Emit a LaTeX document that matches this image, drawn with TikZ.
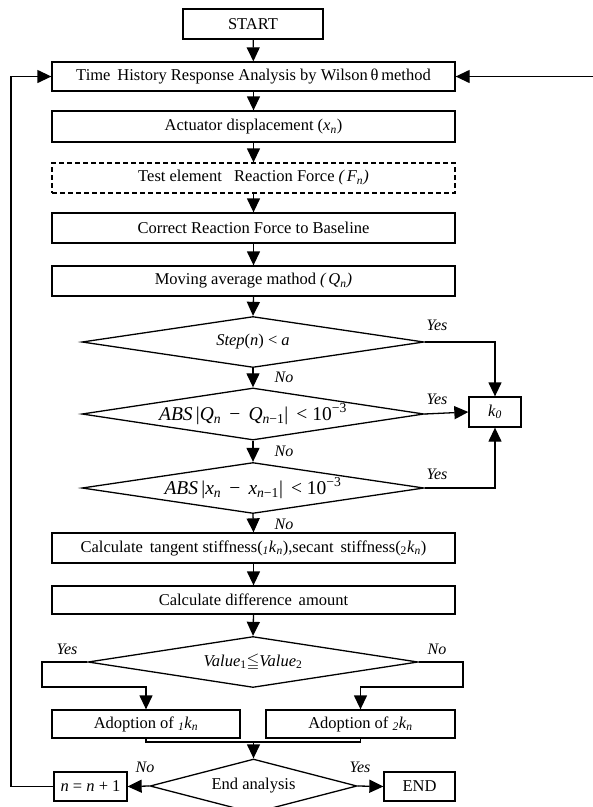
\documentclass[tikz,border=0pt]{standalone}
\usepackage{amssymb}
\usepackage{fontspec}
\setmainfont{Liberation Serif}
\usetikzlibrary{shapes.geometric,arrows.meta}

\tikzset{
  box/.style={draw, line width=1.3pt, rectangle, inner sep=0pt, minimum height=30pt, minimum width=403pt,
              font=\fontsize{16.5}{18}\selectfont},
  dbox/.style={box, dashed, dash pattern=on 5pt off 3pt},
  dia/.style={draw, line width=1.3pt, diamond, inner sep=0pt, aspect=6,
              font=\fontsize{16.5}{18}\selectfont},
  line/.style={line width=1.3pt},
  arr/.style={line width=1.3pt, -{Triangle[length=14pt,width=13pt]}},
  lab/.style={font=\fontsize{16}{18}\selectfont\itshape, inner sep=0pt}
}

\begin{document}
\begin{tikzpicture}[x=1pt,y=-1pt]
  \useasboundingbox (0,0) rectangle (593,807);
  \clip (0,0) rectangle (593,807);

  % process boxes
  \node[box, minimum width=140pt] (start) at (253,24) {START};
  \node[box, minimum height=29pt] (thra) at (253.5,76.5) {Time\, History Response Analysis by Wilson\,θ\,method};
  \node[box, minimum height=31pt] (act) at (253.5,126.5) {Actuator displacement (\textit{x}\textsubscript{\textit{n}})};
  \node[dbox] (test) at (253.5,178) {Test element \ \ Reaction Force \textit{(\,F\textsubscript{n})}};
  \node[box] (corr) at (253.5,228) {Correct Reaction Force to Baseline};
  \node[box] (mov) at (253.5,281) {Moving average mathod \textit{(\,Q\textsubscript{n})}};

  % decisions
  \node[dia, minimum width=342pt, minimum height=51pt] (d1) at (253,342) {\textit{Step}(\textit{n}) < \textit{a}};
  \node[dia, minimum width=342pt, minimum height=50pt, font=\fontsize{19.5}{20}\selectfont] (d2) at (253,414)
    {\textit{ABS}\,|\textit{Q}\textsubscript{\textit{n}}\, − \,\textit{Q}\textsubscript{\textit{n}−1}|\, < 10\textsuperscript{−3}};
  \node[dia, minimum width=342pt, minimum height=51pt, font=\fontsize{19.5}{20}\selectfont] (d3) at (253,488)
    {\textit{ABS}\,|\textit{x}\textsubscript{\textit{n}}\, − \,\textit{x}\textsubscript{\textit{n}−1}|\, < 10\textsuperscript{−3}};
  \node[box, minimum width=52pt] (k0) at (495,412) {\textit{k}\textsubscript{\textit{0}}};

  \node[box] (calc1) at (253.5,548) {Calculate\, tangent stiffness(\textsubscript{\textit{1}}\textit{k}\textsubscript{\textit{n}}),secant\, stiffness(\textsubscript{2}\textit{k}\textsubscript{\textit{n}})};
  \node[box, minimum height=28pt] (calc2) at (253.5,600) {Calculate difference\, amount};

  \node[dia, minimum width=330pt, minimum height=51pt] (d4) at (253,662)
    {\textit{Value}\textsubscript{1}$\leqq$\textit{Value}\textsubscript{2}};

  \node[box, minimum width=188pt, minimum height=28pt] (ad1) at (146,724) {Adoption of \textsubscript{\textit{1}}\textit{k}\textsubscript{\textit{n}}};
  \node[box, minimum width=189pt, minimum height=28pt] (ad2) at (360.5,724) {Adoption of \textsubscript{\textit{2}}\textit{k}\textsubscript{\textit{n}}};

  \node[dia, minimum width=207pt, minimum height=54pt] (d5) at (253.5,786) {End analysis};
  \node[box, minimum width=73pt, minimum height=29pt] (nn) at (90.5,786.5) {\textit{n} = \textit{n} + 1};
  \node[box, minimum width=71pt, minimum height=29pt] (end) at (419.5,786.5) {END};

  \coordinate (feed) at (600,76.5);
  \coordinate (merge) at (253.5,742);

  % main flow
  \draw[arr] (start) -- (thra);
  \draw[arr] (thra) -- (act);
  \draw[arr] (act) -- (test);
  \draw[arr] (test) -- (corr);
  \draw[arr] (corr) -- (mov);
  \draw[arr] (mov.south) -- (d1.north);
  \draw[arr] (d1.south) -- (d2.north);
  \draw[arr] (d2.south) -- (d3.north);
  \draw[arr] (d3.south) -- (calc1.north);
  \draw[arr] (calc1) -- (calc2);
  \draw[arr] (calc2.south) -- (d4.north);

  % branches to k0
  \draw[arr] (d1.east) -| (k0.north);
  \draw[arr] (d2.east) -- (k0.west);
  \draw[arr] (d3.east) -| (k0.south);

  % comparison branches
  \draw[arr] (d4.west) -- (42,662) -- (42,687) -| (ad1.north);
  \draw[arr] (d4.east) -- (463,662) -- (463,687) -| (ad2.north);
  \draw[line] (ad1.south) -- (ad1.south |- merge) -- (ad2.south |- merge) -- (ad2.south);
  \draw[arr] (merge) -- (d5.north);

  % end decision
  \draw[arr] (d5.west) -- (nn.east);
  \draw[arr] (d5.east) -- (end.west);
  \draw[arr] (nn.west) -- (11,786.5) -- (11,76.5) -- (thra.west);
  \draw[arr] (feed) -- (thra.east);

  % branch labels
  \node[lab] at (437,325) {Yes};
  \node[lab] at (437,399) {Yes};
  \node[lab] at (437,474) {Yes};
  \node[lab] at (284,377) {No};
  \node[lab] at (284,451) {No};
  \node[lab] at (284,524) {No};
  \node[lab] at (67,649) {Yes};
  \node[lab] at (437,649) {No};
  \node[lab] at (145,767) {No};
  \node[lab] at (360,767) {Yes};
\end{tikzpicture}
\end{document}
